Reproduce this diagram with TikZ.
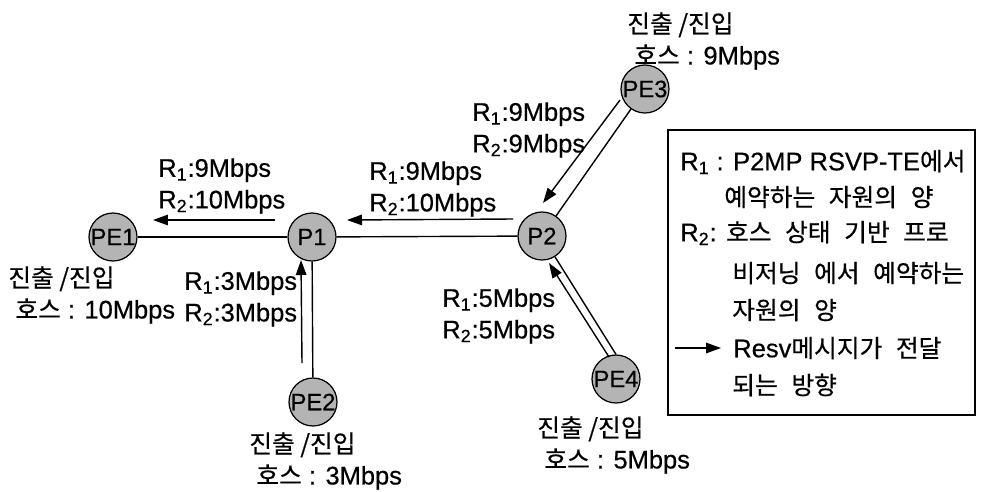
\documentclass[tikz,border=0pt]{standalone}
\usepackage{fontspec}
\setmainfont[FakeBold=0.5]{Liberation Sans}
\newfontfamily\kofont[Scale=0.97, FakeBold=0.5]{Noto Sans CJK KR}
\usepackage{xcolor}
\usetikzlibrary{positioning, arrows.meta, calc}
\definecolor{NodeGry}{HTML}{B4B4B4}
\newcommand{\ko}[1]{{\kofont #1}}
\newcommand{\Rn}[1]{R\textsubscript{#1}}
\newcommand{\gap}{\hspace{0.55em}}

\begin{document}
\begin{tikzpicture}[x=0.02cm, y=-0.02cm,
    router/.style={circle, draw=black, line width=0.7pt, fill=NodeGry,
      minimum size=0.96cm, inner sep=-6pt, font=\fontsize{13.5}{15}\selectfont},
    rate/.style={anchor=west, align=left, inner sep=0pt,
      font=\fontsize{14.5}{18}\selectfont},
    legtext/.style={anchor=west, inner sep=0pt, font=\fontsize{14.5}{18}\selectfont},
    link/.style={line width=0.8pt},
    resv/.style={line width=0.8pt, -{Triangle[length=0.3cm, width=0.21cm]}}]
  \useasboundingbox (0,0) rectangle (988,491);

  % ── routers ───────────────────────────────────────────────────────────────
  \foreach \n/\lab/\x/\y in {pe1/PE1/113/237, p1/P1/312/237, p2/P2/542/236,
                             pe2/PE2/313/402, pe3/PE3/645/89, pe4/PE4/616/379} {
    \node[router] (\n) at (\x,\y) {\lab};
  }

  % ── links ─────────────────────────────────────────────────────────────────
  \draw[link] (pe1) -- (p1);
  \draw[link] (p1) -- (p2);
  \draw[link] (p1) -- (pe2);
  \draw[link] (p2) -- (pe3);
  \draw[link] (p2) -- (pe4.north);

  % ── Resv message direction ────────────────────────────────────────────────
  \draw[resv] ($(p1)+(-37,-17)$) -- ($(pe1)+(40,-17)$);
  \draw[resv] ($(p2)+(-29,-17)$) -- ($(p1)+(35,-17)$);
  \draw[resv] ($(pe2)+(-11,-39)$) -- ($(p1)+(-11,23)$);
  \draw[resv] ($(pe3)+(-25,11)$) -- ($(p2)+(1,-33)$);
  \draw[resv] ($(pe4)+(-7,-22)$) -- ($(p2)+(7,27)$);

  % ── reserved rates per link ───────────────────────────────────────────────
  \node[rate] (r1) at (158,186) {\Rn{1}:9Mbps\\\Rn{2}:10Mbps};
  \node[rate] (r2) at (369,189) {\Rn{1}:9Mbps\\\Rn{2}:10Mbps};
  \node[rate] (r3) at (472,130) {\Rn{1}:9Mbps\\\Rn{2}:9Mbps};
  \node[rate] (r4) at (442,316) {\Rn{1}:5Mbps\\\Rn{2}:5Mbps};
  \node[rate] (r5) at (184,299) {\Rn{1}:3Mbps\\\Rn{2}:3Mbps};

  % ── egress / ingress hosts ────────────────────────────────────────────────
  \node[rate] (h1) at (8,295)   {\ko{진출 /진입}\\\ \ko{호스} : 10Mbps};
  \node[rate] (h2) at (249,461) {\ko{진출 /진입}\\\ \ko{호스} : 3Mbps};
  \node[rate] (h3) at (627,41)  {\ko{진출 /진입}\\\ \ko{호스} : 9Mbps};
  \node[rate] (h4) at (537,445) {\ko{진출 /진입}\\\ \ko{호스} : 5Mbps};

  % ── legend ────────────────────────────────────────────────────────────────
  \draw[line width=1.1pt] (668,130) rectangle (975,415);
  \node[legtext] (l1) at (680,162) {\Rn{1} : P2MP RSVP-TE\ko{에서}};
  \node[legtext] (l2) at (724,197) {\ko{예약하는\gap 자원의\gap 양}};
  \node[legtext] (l3) at (680,233) {\Rn{2}: \ko{호스\gap 상태\gap 기반\gap 프로}};
  \node[legtext] (l4) at (732,273) {\ko{비저닝\gap 에서\gap 예약하는}};
  \node[legtext] (l5) at (732,310) {\ko{자원의\gap 양}};
  \coordinate (la) at (675,348);
  \node[legtext] (l6) at (733,348) {Resv\ko{메시지가\gap 전달}};
  \draw[resv, shorten >=0.24cm] (la) -- (l6.west);
  \node[legtext] (l7) at (732,385) {\ko{되는\gap 방향}};
\end{tikzpicture}
\end{document}
